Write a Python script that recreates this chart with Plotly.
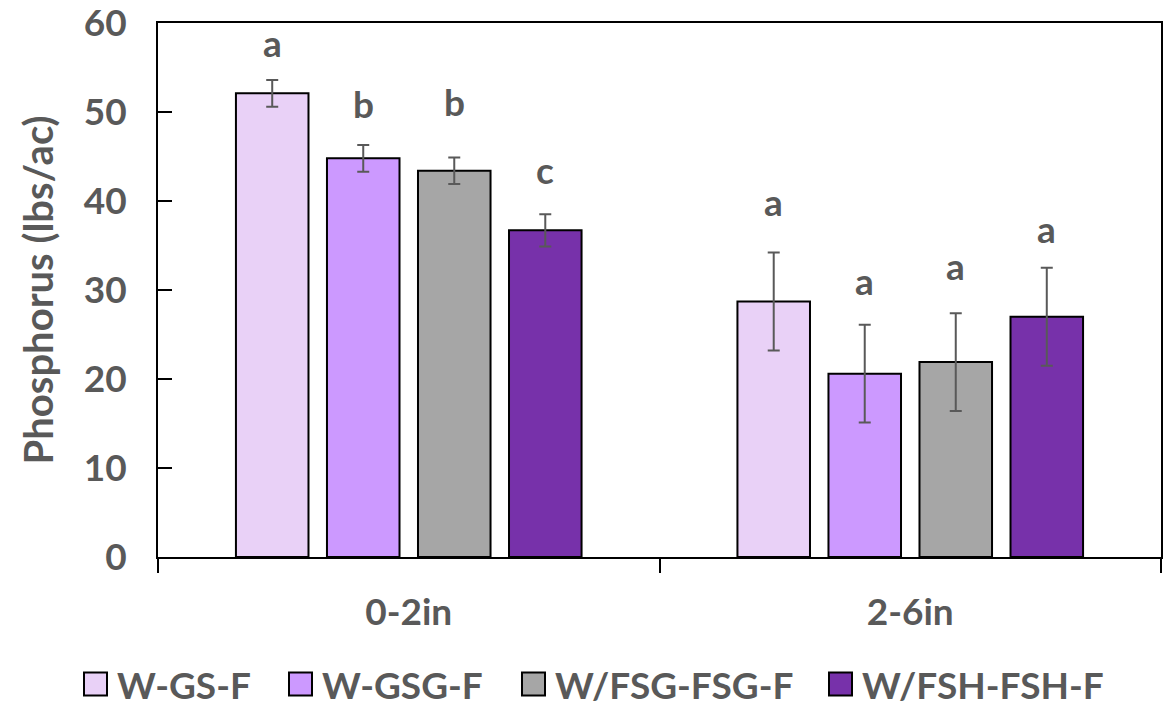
import plotly.graph_objects as go

# Soil depth groups and treatment series
depths = ["0-2in", "2-6in"]
treatments = ["W-GS-F", "W-GSG-F", "W/FSG-FSG-F", "W/FSH-FSH-F"]

# Mean phosphorus (lbs/ac) per treatment, one value per depth
p_wgsf = [52.1, 28.7]
p_wgsgf = [44.8, 20.6]
p_wfsg = [43.4, 21.9]
p_wfsh = [36.7, 27.0]

# Error (± lbs/ac)
e_wgsf = [1.5, 5.5]
e_wgsgf = [1.5, 5.5]
e_wfsg = [1.5, 5.5]
e_wfsh = [1.8, 5.5]

# Significance letters and the height they are written at
letters_wgsf = ["a", "a"]
letters_wgsgf = ["b", "a"]
letters_wfsg = ["b", "a"]
letters_wfsh = ["c", "a"]
ly_wgsf = [57.8, 39.9]
ly_wgsgf = [51.0, 31.1]
ly_wfsg = [51.2, 32.8]
ly_wfsh = [43.5, 36.9]

values = [p_wgsf, p_wgsgf, p_wfsg, p_wfsh]
errors = [e_wgsf, e_wgsgf, e_wfsg, e_wfsh]
letters = [letters_wgsf, letters_wgsgf, letters_wfsg, letters_wfsh]
letter_y = [ly_wgsf, ly_wgsgf, ly_wfsg, ly_wfsh]

colors = ["#E9D1F7", "#CC99FF", "#A6A6A6", "#7731AA"]
TEXT = "#595959"
FONT = "Lato"
FS = 37

W, H = 1167, 707
ML, MR, MT, MB = 158, 6, 23, 150
BARGAP = 0.274
GROUPGAP = 0.203

fig = go.Figure()
for name, vals, errs, col in zip(treatments, values, errors, colors):
    fig.add_trace(go.Bar(
        x=depths, y=vals, name=name,
        marker=dict(color=col, line=dict(color="black", width=2)),
        error_y=dict(type="data", array=errs, visible=True,
                     color=TEXT, thickness=2, width=6),
        showlegend=False,
    ))

# letters above each bar, placed at the bar's group offset
slot = (1 - BARGAP) / len(treatments)
annotations = []
for i, (labs, ys) in enumerate(zip(letters, letter_y)):
    off = (i - (len(treatments) - 1) / 2) * slot
    for j in range(len(depths)):
        annotations.append(dict(
            x=j + off, y=ys[j], xref="x", yref="y", text=labs[j],
            showarrow=False, yanchor="middle",
            font=dict(family=FONT, size=FS, color=TEXT, weight="bold"),
        ))

# hand-drawn legend row below the axis
pw = W - ML - MR
ph = H - MT - MB
def xp(px):
    return (px - ML) / pw
def yp(py):
    return (H - MB - py) / ph

leg_x = [84, 289, 522, 829]
leg_y = 684
sq = 23
shapes = []
for lx, col, name in zip(leg_x, colors, treatments):
    shapes.append(dict(type="rect", xref="paper", yref="paper",
                       x0=xp(lx), x1=xp(lx + sq),
                       y0=yp(leg_y + sq / 2), y1=yp(leg_y - sq / 2),
                       fillcolor=col, line=dict(color="black", width=2)))
    annotations.append(dict(
        x=xp(lx + sq + 8), y=yp(leg_y), xref="paper", yref="paper",
        text=name, showarrow=False, xanchor="left", yanchor="middle",
        font=dict(family=FONT, size=FS, color=TEXT, weight="bold"),
    ))

fig.update_layout(
    width=W, height=H,
    margin=dict(l=ML, r=MR, t=MT, b=MB, autoexpand=False),
    paper_bgcolor="white", plot_bgcolor="white",
    barmode="group", bargap=BARGAP, bargroupgap=GROUPGAP,
    font=dict(family=FONT, size=FS, color=TEXT, weight="bold"),
    annotations=annotations, shapes=shapes,
    xaxis=dict(
        type="category", tickson="boundaries", automargin=False,
        ticks="outside", ticklen=14, tickwidth=2, tickcolor="black",
        showline=True, linecolor="black", linewidth=2, mirror=True,
        showgrid=False, zeroline=False, ticklabelstandoff=22,
        tickfont=dict(family=FONT, size=FS, color=TEXT, weight="bold"),
    ),
    yaxis=dict(
        range=[0, 60], tickvals=[0, 10, 20, 30, 40, 50, 60], automargin=False,
        ticks="inside", ticklen=14, tickwidth=2, tickcolor="black",
        showline=True, linecolor="black", linewidth=2, mirror=True,
        showgrid=False, zeroline=False, ticklabelstandoff=22,
        ticklabeloverflow="allow",
        tickfont=dict(family=FONT, size=FS, color=TEXT, weight="bold"),
        title=dict(text="Phosphorus (lbs/ac)", standoff=18,
                   font=dict(family=FONT, size=40, color=TEXT, weight="bold")),
    ),
)

fig.write_html("out.html")
